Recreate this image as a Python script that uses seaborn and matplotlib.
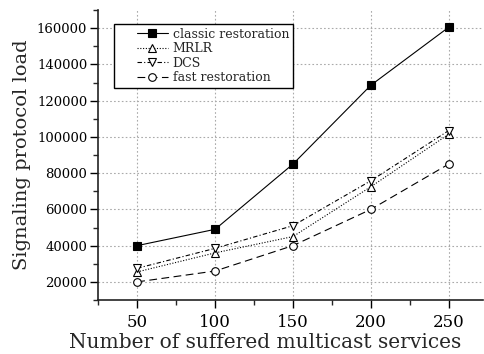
import matplotlib
matplotlib.use("Agg")
import matplotlib.pyplot as plt
import seaborn as sns
import pandas as pd
from matplotlib.ticker import MultipleLocator
from matplotlib.legend_handler import HandlerLine2D
from matplotlib.lines import Line2D

services = [50, 100, 150, 200, 250]
classic = [40000, 49000, 85000, 128500, 160500]
mrlr = [25500, 36000, 45000, 72500, 101500]
dcs = [27500, 38500, 51000, 75800, 103500]
fast = [20000, 26000, 40000, 60000, 85000]
series_names = ["classic restoration", "MRLR", "DCS", "fast restoration"]

sns.set_style("white")
plt.rcParams["font.family"] = ["DejaVu Serif"]
plt.rcParams["mathtext.fontset"] = "dejavuserif"

fig = plt.figure(figsize=(4.85, 3.54), dpi=100)
ax = fig.add_axes([98.3 / 485, 1 - 300 / 354, (483 - 98.3) / 485, 290 / 354])

styles = {
    "classic restoration": dict(marker="s", mfc="black", dashes=None),
    "MRLR": dict(marker="^", mfc="white", dashes=(1, 1.5)),
    "DCS": dict(marker="v", mfc="white", dashes=(4, 2, 1, 2)),
    "fast restoration": dict(marker="o", mfc="white", dashes=(7, 4)),
}
values = [classic, mrlr, dcs, fast]
for name, vals in zip(series_names, values):
    df = pd.DataFrame({"x": services, "y": vals})
    st = styles[name]
    kw = dict(color="black", lw=0.8, marker=st["marker"], markersize=5.5,
              markerfacecolor=st["mfc"], markeredgecolor="black",
              markeredgewidth=0.8, label=name)
    sns.lineplot(data=df, x="x", y="y", ax=ax, **kw)
    line = ax.get_lines()[-1]
    if st["dashes"] is not None:
        line.set_dashes(st["dashes"])

ax.set_xlim(25, 272)
ax.set_ylim(10000, 170000)
ax.xaxis.set_major_locator(MultipleLocator(50))
ax.xaxis.set_minor_locator(MultipleLocator(25))
ax.yaxis.set_major_locator(MultipleLocator(20000))
ax.yaxis.set_minor_locator(MultipleLocator(10000))
ax.set_yticks([20000, 40000, 60000, 80000, 100000, 120000, 140000, 160000])
ax.grid(True, which="major", color="#aaaaaa", ls=(0, (1.5, 2)), lw=0.8)
ax.tick_params(which="major", direction="out", length=6, width=1,
               left=True, bottom=True, colors="black")
ax.tick_params(axis="y", which="major", labelsize=9.5, pad=2)
ax.tick_params(axis="x", which="major", labelsize=12, pad=4)
ax.tick_params(which="minor", direction="out", length=3.5, width=1,
               left=True, bottom=True)
for s in ["top", "right"]:
    ax.spines[s].set_visible(False)
for s in ["left", "bottom"]:
    ax.spines[s].set_color("#222222")
    ax.spines[s].set_linewidth(1.2)

ax.set_xlabel("Number of suffered multicast services", fontsize=14.5)
ax.xaxis.set_label_coords((265 - 98.3) / 384.7, -33 / 290, transform=ax.transAxes)
ax.set_ylabel("Signaling protocol load", fontsize=14, labelpad=4)

handler = HandlerLine2D(xpad=1.5)
leg = ax.legend(loc="upper left", bbox_to_anchor=(15.7 / 384.7, 1 - 14 / 290),
                frameon=True, fancybox=False, edgecolor="black", framealpha=1,
                fontsize=9, handlelength=4.0, borderpad=0.3,
                labelspacing=0.12, handletextpad=0.4, borderaxespad=0,
                handler_map={Line2D: handler})
leg.get_frame().set_linewidth(1.0)

fig.savefig("out.png", dpi=100)
